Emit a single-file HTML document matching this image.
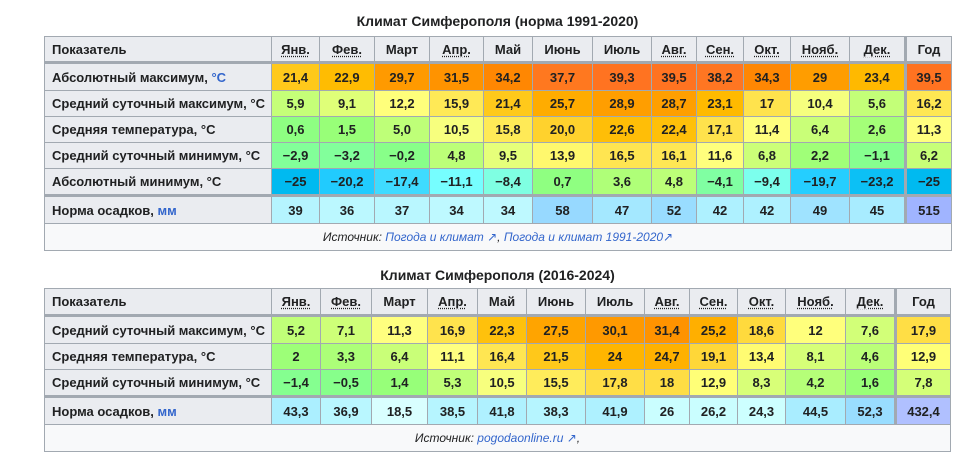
<!DOCTYPE html>
<html><head><meta charset="utf-8">
<style>
html,body{margin:0;padding:0;background:#fff;width:974px;height:475px;overflow:hidden}
body{font-family:"Liberation Sans","DejaVu Sans",sans-serif;color:#202122;position:relative}
.title{position:absolute;left:44px;width:907px;text-align:center;font-weight:bold;font-size:14px}
.tbl{position:absolute;background:#a2a9b1}
.c{position:absolute;display:flex;align-items:center;justify-content:center;font-weight:bold;font-size:13px;white-space:nowrap;color:#202122}
.h{background:#eaecf0}
.lab{justify-content:flex-start;padding-left:7px;box-sizing:border-box;background:#eaecf0}
.ab{text-decoration:underline dotted;text-underline-offset:2px}
.lnk{color:#3366cc}
.src{background:#f8f9fa;font-weight:normal;font-style:italic;font-size:12px;color:#202122}
</style></head><body>
<div class="title" style="top:13px">Климат Симферополя (норма 1991-2020)</div>
<div class="title" style="top:267px">Климат Симферополя (2016-2024)</div>
<div id="t1" class="tbl"></div>
<div id="t2" class="tbl"></div>
<script>
const months = ['Янв.','Фев.','Март','Апр.','Май','Июнь','Июль','Авг.','Сен.','Окт.','Нояб.','Дек.','Год'];
const abbr = [true,true,false,true,false,false,false,true,true,true,true,true,false];
const t1Labels = ['Абсолютный максимум, °C','Средний суточный максимум, °C','Средняя температура, °C','Средний суточный минимум, °C','Абсолютный минимум, °C','Норма осадков, мм'];
const t1AbsMax = [21.4,22.9,29.7,31.5,34.2,37.7,39.3,39.5,38.2,34.3,29,23.4,39.5];
const t1AvgMax = [5.9,9.1,12.2,15.9,21.4,25.7,28.9,28.7,23.1,17,10.4,5.6,16.2];
const t1Mean = [0.6,1.5,5.0,10.5,15.8,20.0,22.6,22.4,17.1,11.4,6.4,2.6,11.3];
const t1AvgMin = [-2.9,-3.2,-0.2,4.8,9.5,13.9,16.5,16.1,11.6,6.8,2.2,-1.1,6.2];
const t1AbsMin = [-25,-20.2,-17.4,-11.1,-8.4,0.7,3.6,4.8,-4.1,-9.4,-19.7,-23.2,-25];
const t1Precip = [39,36,37,34,34,58,47,52,42,42,49,45,515];
const t2Labels = ['Средний суточный максимум, °C','Средняя температура, °C','Средний суточный минимум, °C','Норма осадков, мм'];
const t2AvgMax = [5.2,7.1,11.3,16.9,22.3,27.5,30.1,31.4,25.2,18.6,12,7.6,17.9];
const t2Mean = [2,3.3,6.4,11.1,16.4,21.5,24,24.7,19.1,13.4,8.1,4.6,12.9];
const t2AvgMin = [-1.4,-0.5,1.4,5.3,10.5,15.5,17.8,18,12.9,8.3,4.2,1.6,7.8];
const t2Precip = [43.3,36.9,18.5,38.5,41.8,38.3,41.9,26,26.2,24.3,44.5,52.3,432.4];

const tStops=[[-25,[0,186,240]],[-20,[34,204,255]],[-17,[68,221,255]],[-11,[119,255,255]],[-8,[128,255,221]],[-4,[128,255,160]],[0,[136,255,136]],[1.5,[152,255,120]],[5,[190,255,120]],[9,[221,255,120]],[11,[255,255,128]],[13,[255,255,119]],[16,[255,232,85]],[18,[255,221,68]],[21,[255,204,34]],[23,[255,187,0]],[26,[255,170,0]],[30,[255,153,0]],[34,[255,136,0]],[38,[255,119,34]],[45,[255,100,30]]];
const pStops=[[15,[224,255,255]],[25,[204,255,255]],[36,[187,248,255]],[44,[170,238,255]],[52,[153,221,255]],[60,[150,215,255]]];
function interp(stops,v){
  if(v<=stops[0][0]) return stops[0][1];
  for(let i=1;i<stops.length;i++){ if(v<=stops[i][0]){const a=stops[i-1],b=stops[i];const f=(v-a[0])/(b[0]-a[0]);return a[1].map((x,k)=>Math.round(x+(b[1][k]-x)*f));}}
  return stops[stops.length-1][1];
}
function tColor(v){return 'rgb('+interp(tStops,v).join(',')+')';}
function pColor(v,isYear){ if(isYear) return v>480?'rgb(160,180,255)':'rgb(176,192,255)'; return 'rgb('+interp(pStops,v).join(',')+')';}
function fmt(v,dec){ let s = (Number.isInteger(v) && !dec)? String(Math.abs(v)) : Math.abs(v).toFixed(1); s=s.replace('.',','); return (v<0?'−':'')+s; }

function build(id,left,top,colW,rowH,thick,labels,series,decs,srcHTML){
  const t=document.getElementById(id);
  let x=227; const cx=[];
  colW.forEach((w)=>{cx.push(x); x+=w;});
  let total=x+1;
  t.style.left=left+'px'; t.style.top=top+'px'; t.style.width=total+'px';
  let ys=[0]; let y=0; rowH.forEach(h=>{y+=h; ys.push(y);});
  t.style.height=(y+1)+'px';
  function cell(cls,l,tp,w,h,html,bg,name,inter){
    const d=document.createElement('div'); d.className='c '+cls;
    d.style.left=(l+1)+'px'; d.style.top=(tp+1)+'px'; d.style.width=(w-1)+'px'; d.style.height=(h-1)+'px';
    if(bg) d.style.background=bg; d.innerHTML='<span>'+html+'</span>';
    
    
    t.appendChild(d); return d;
  }
  const yearGap=2;
  function colLeft(i){return cx[i]+(i===12?yearGap:0);}
  function colWidth(i){return colW[i]-(i===12?yearGap:0);}
  cell('h lab',0,0,227,rowH[0],'Показатель',null,'header-indicator',false);
  months.forEach((m,i)=>{
    cell('h',colLeft(i),0,colWidth(i),rowH[0],abbr[i]?'<span class="ab">'+m+'</span>':m,null,'header-month-'+(i+1),false);
  });
  labels.forEach((lab,r)=>{
    const tY=ys[r+1]; const h=rowH[r+1];
    const off=thick.includes(r+1)?2:0;
    const isP=r===labels.length-1;
    let html=lab.replace('°C', (r===0&&id==='t1')?'<span class="lnk">°C</span>':'°C');
    if(isP) html='Норма осадков, <span class="lnk">мм</span>';
    cell('lab',0,tY+off,227,h-off,html,null,'row-label-'+(r+1),false);
    series[r].forEach((v,i)=>{
      const bg=isP?pColor(v,i===12):tColor(v);
      cell('',colLeft(i),tY+off,colWidth(i),h-off,fmt(v,decs[r]),bg,'cell-r'+(r+1)+'-c'+(i+1),false);
    });
  });
  const last=rowH.length-1;
  cell('src',0,ys[last],total-1,rowH[last],srcHTML,null,'source-note',false);
}
build('t1',44,36,[48,55,55,54,49,60,59,45,47,47,59,55,47],[25,29,26,26,26,26,29,27],[1,6],
  t1Labels,[t1AbsMax,t1AvgMax,t1Mean,t1AvgMin,t1AbsMin,t1Precip],[0,0,1,0,0,0],
  'Источник: <span class="lnk">Погода и климат ↗</span>, <span class="lnk">Погода и климат 1991-2020↗</span>');
build('t2',44,288,[49,51,56,50,49,59,59,45,48,48,60,49,56],[26,29,26,26,29,27],[1,4],
  t2Labels,[t2AvgMax,t2Mean,t2AvgMin,t2Precip],[0,0,0,0],
  'Источник: <span class="lnk">pogodaonline.ru ↗</span>,');
</script>
</body></html>
